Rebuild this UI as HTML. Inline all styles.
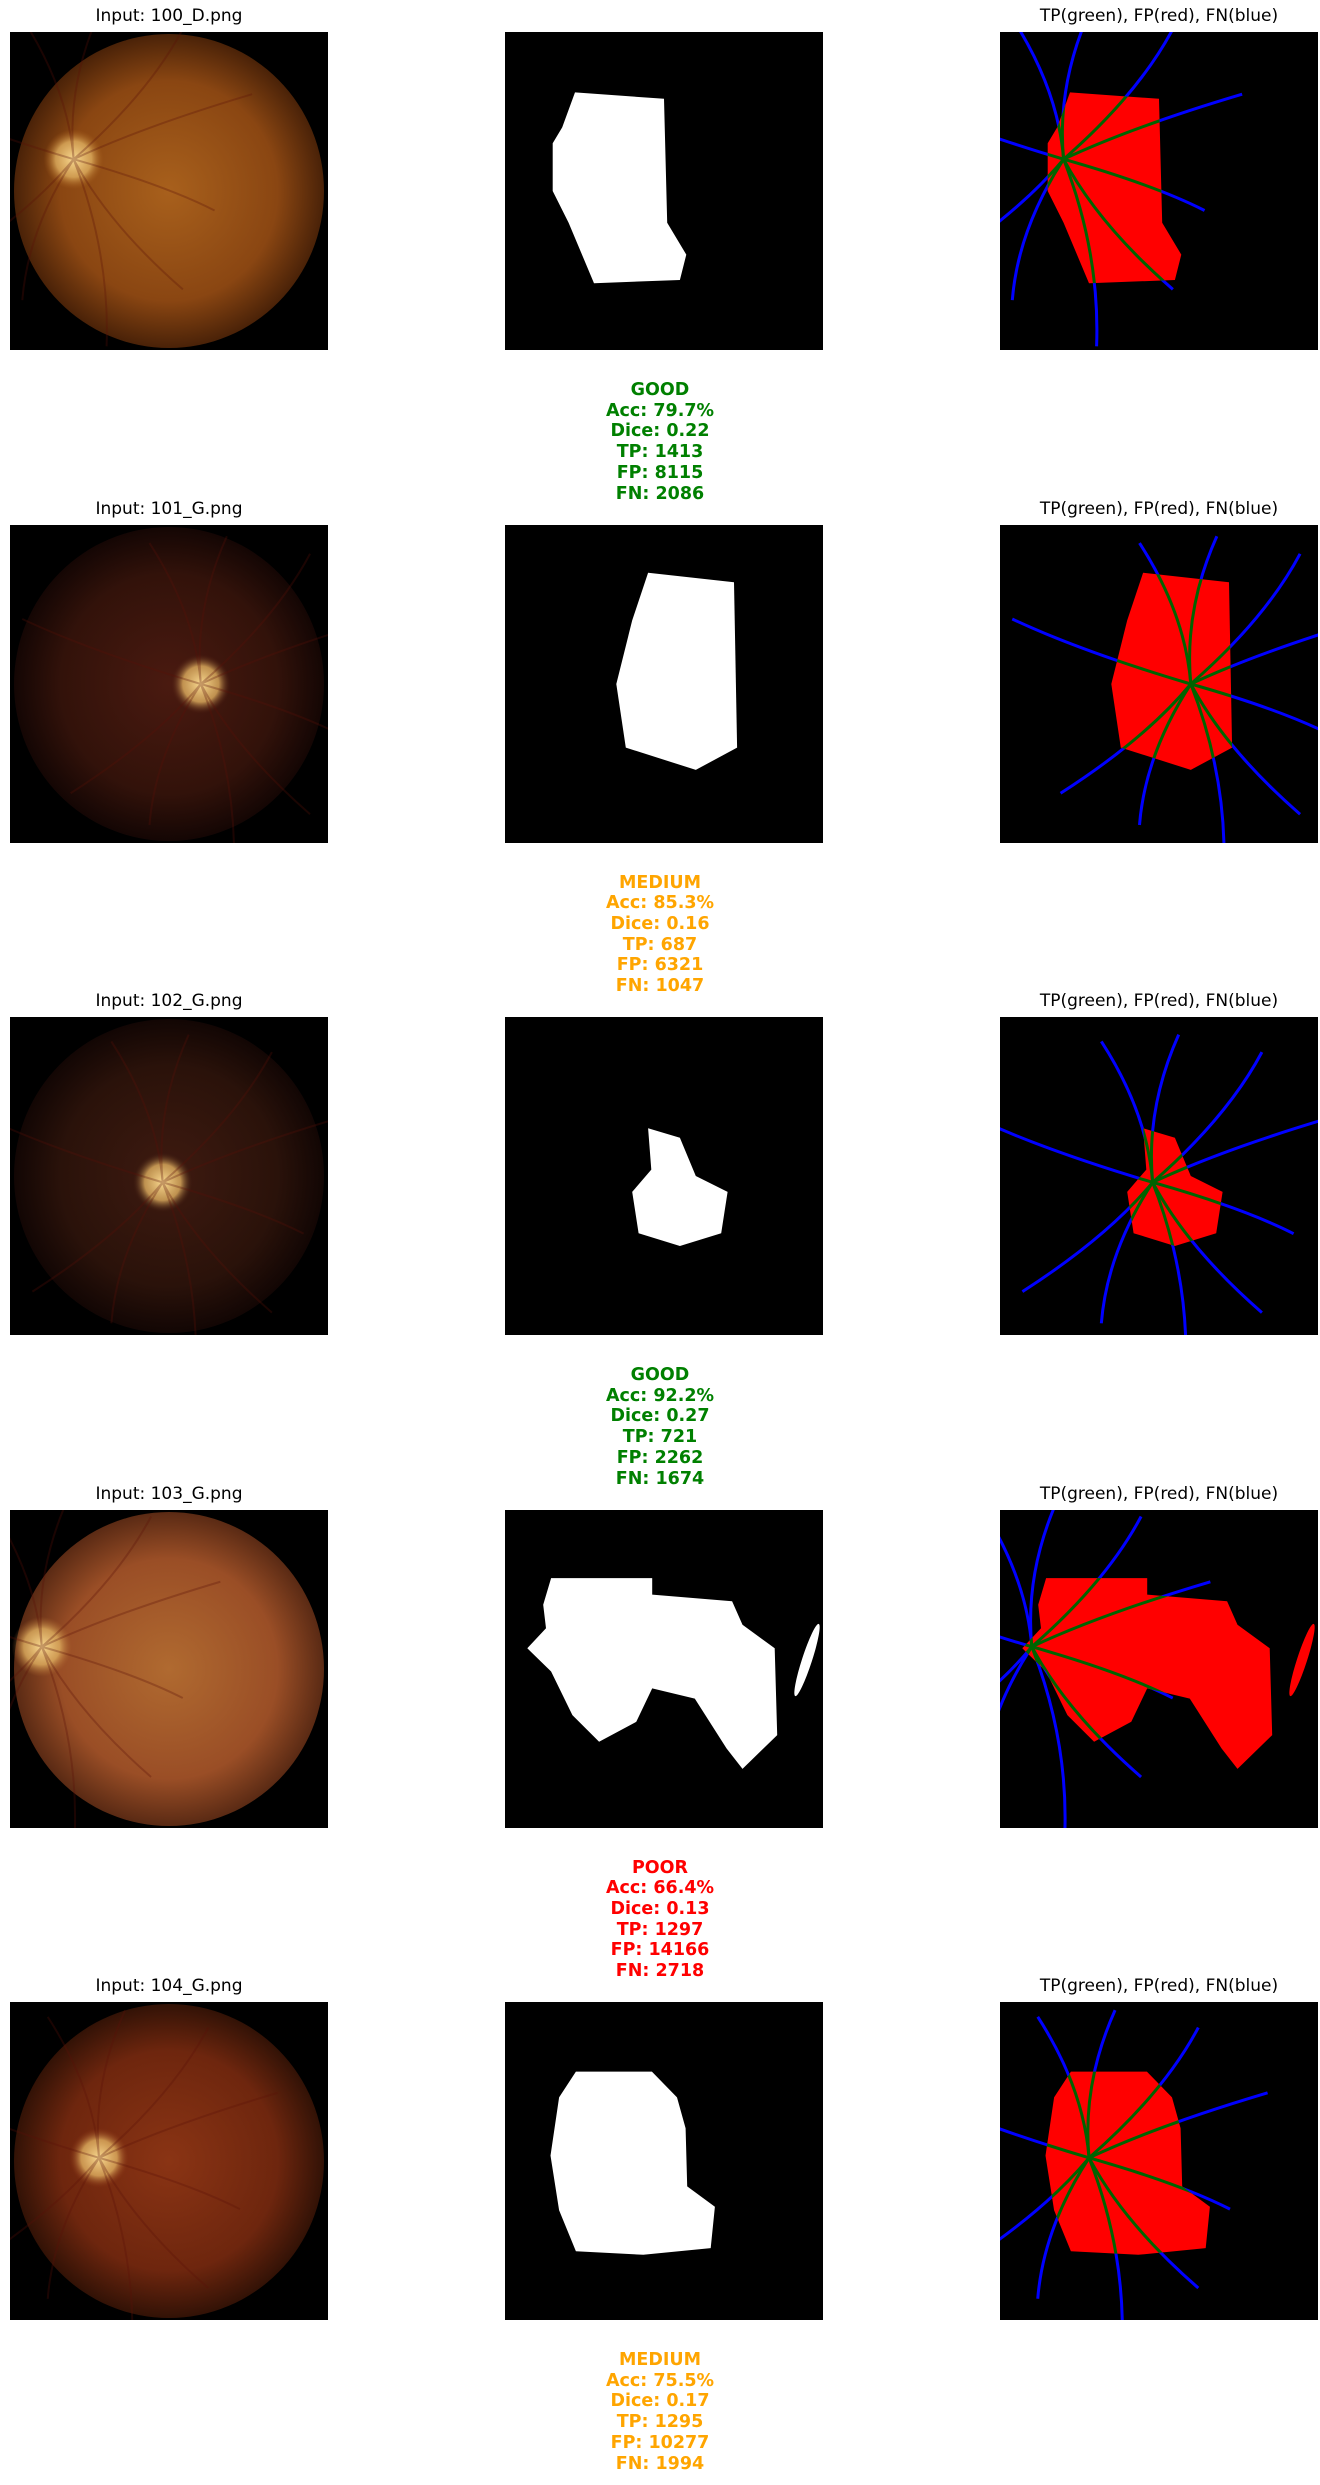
<!DOCTYPE html>
<html><head><meta charset="utf-8">
<style>
body{margin:0;background:#fff;width:1320px;height:2485px;position:relative;overflow:hidden;font-family:"DejaVu Sans","Liberation Sans",sans-serif;}
.t{position:absolute;font-size:17px;color:#000;text-align:center;width:400px;white-space:nowrap}
.m{position:absolute;left:460px;width:400px;text-align:center;font-size:17.5px;font-weight:bold;line-height:20.7px}
svg.p{position:absolute;width:318px;height:318px}
</style></head><body>
<div id="root"></div>
<script>
const names=["100_D.png","101_G.png","102_G.png","103_G.png","104_G.png"];
const quality=["GOOD","MEDIUM","GOOD","POOR","MEDIUM"];
const accs=[79.7,85.3,92.2,66.4,75.5];
const dices=[0.22,0.16,0.27,0.13,0.17];
const tps=[1413,687,721,1297,1295];
const fps=[8115,6321,2262,14166,10277];
const fns=[2086,1047,1674,2718,1994];
const qColor={GOOD:"#008000",MEDIUM:"#ffa500",POOR:"#ff0000"};
const fundusCol=[["#a8601c","#8a4612","#4a2208"],["#4a1a10","#32120a","#140604"],["#3e1a10","#2a120a","#120604"],["#b06a30","#9a4e26","#5a2a14"],["#8a3414","#6e260e","#321206"]];
const discs=[[0.2,0.4],[0.6,0.5],[0.48,0.52],[0.1,0.43],[0.28,0.49]];
const masks=[
[[0.22,0.19],[0.5,0.21],[0.51,0.6],[0.57,0.7],[0.55,0.78],[0.28,0.79],[0.2,0.6],[0.15,0.5],[0.15,0.35],[0.18,0.3]],
[[0.45,0.15],[0.72,0.18],[0.73,0.7],[0.6,0.77],[0.38,0.7],[0.35,0.5],[0.4,0.3]],
[[0.45,0.35],[0.55,0.38],[0.6,0.5],[0.7,0.55],[0.68,0.68],[0.55,0.72],[0.42,0.68],[0.4,0.55],[0.46,0.48]],
[[0.145,0.214],[0.463,0.214],[0.463,0.266],[0.714,0.287],[0.747,0.361],[0.848,0.435],[0.856,0.708],[0.747,0.814],[0.697,0.75],[0.597,0.593],[0.463,0.561],[0.413,0.666],[0.296,0.729],[0.212,0.645],[0.145,0.508],[0.07,0.435],[0.129,0.372],[0.12,0.298]],
[[0.223,0.219],[0.462,0.219],[0.541,0.3],[0.568,0.397],[0.573,0.58],[0.66,0.644],[0.647,0.774],[0.435,0.795],[0.223,0.784],[0.17,0.655],[0.143,0.483],[0.17,0.3]]];
const TOP0=32, PITCH=492.5, XS=[10,505,1000];
const root=document.getElementById('root');
const NS="http://www.w3.org/2000/svg";
function pts(arr){return arr.map(p=>(p[0]*318).toFixed(1)+","+(p[1]*318).toFixed(1)).join(" ");}
function vessels(d,col,w){
  let s="";const cx=d[0]*318,cy=d[1]*318;
  const ang=[-80,-50,-20,20,50,80,110,140,200,250];
  ang.forEach((a,i)=>{const r=a*Math.PI/180;const L=150+(i%3)*20;
    const x1=cx+Math.cos(r)*L*0.5+((i%2)?20:-20),y1=cy+Math.sin(r)*L*0.5;
    const x2=cx+Math.cos(r)*L,y2=cy+Math.sin(r)*L;
    s+=`<path d="M${cx},${cy} Q${x1},${y1} ${x2},${y2}" stroke="${col}" stroke-width="${w}" fill="none"/>`;});
  return s;
}
for(let i=0;i<5;i++){
  const top=TOP0+i*PITCH;
  const t1=document.createElement('div');t1.className='t';t1.style.left=(XS[0]+159-200)+'px';t1.style.top=(top-26)+'px';t1.textContent='Input: '+names[i];
  
  
  root.appendChild(t1);
  const t3=document.createElement('div');t3.className='t';t3.style.left=(XS[2]+159-200)+'px';t3.style.top=(top-26)+'px';t3.textContent='TP(green), FP(red), FN(blue)';
  
  
  root.appendChild(t3);
  const c=fundusCol[i],d=discs[i];
  const s1=document.createElementNS(NS,'svg');s1.setAttribute('class','p');s1.style.left=XS[0]+'px';s1.style.top=top+'px';s1.setAttribute('viewBox','0 0 318 318');
  
  
  s1.innerHTML=`<defs><radialGradient id="g${i}" cx="0.5" cy="0.5" r="0.5"><stop offset="0" stop-color="${c[0]}"/><stop offset="0.7" stop-color="${c[1]}"/><stop offset="1" stop-color="${c[2]}"/></radialGradient><radialGradient id="d${i}"><stop offset="0" stop-color="#f8d890"/><stop offset="0.6" stop-color="#e0b060" stop-opacity="0.8"/><stop offset="1" stop-color="${c[0]}" stop-opacity="0"/></radialGradient></defs><rect width="318" height="318" fill="#000"/><ellipse cx="159" cy="159" rx="155" ry="157" fill="url(#g${i})"/><circle cx="${d[0]*318}" cy="${d[1]*318}" r="30" fill="url(#d${i})"/><g opacity="0.3">${vessels(d,'#5a1008',2)}</g>`;
  root.appendChild(s1);
  const s2=document.createElementNS(NS,'svg');s2.setAttribute('class','p');s2.style.left=XS[1]+'px';s2.style.top=top+'px';s2.setAttribute('viewBox','0 0 318 318');
  
  
  let extra=i===3?`<ellipse cx="302" cy="150" rx="5" ry="38" transform="rotate(18 302 150)" fill="#fff"/>`:"";
  s2.innerHTML=`<rect width="318" height="318" fill="#000"/><polygon points="${pts(masks[i])}" fill="#fff"/>${extra}`;
  root.appendChild(s2);
  const s3=document.createElementNS(NS,'svg');s3.setAttribute('class','p');s3.style.left=XS[2]+'px';s3.style.top=top+'px';s3.setAttribute('viewBox','0 0 318 318');
  
  
  s3.innerHTML=`<defs><clipPath id="c${i}"><polygon points="${pts(masks[i])}"/></clipPath></defs><rect width="318" height="318" fill="#000"/>${vessels(d,'#0000ff',3)}<polygon points="${pts(masks[i])}" fill="#ff0000"/>${extra.replace('#fff','#ff0000')}<g clip-path="url(#c${i})">${vessels(d,'#006400',3)}</g>`;
  root.appendChild(s3);
  const m=document.createElement('div');m.className='m';m.style.top=(top+348)+'px';m.style.color=qColor[quality[i]];
  
  
  m.innerHTML=`${quality[i]}<br>Acc: ${accs[i].toFixed(1)}%<br>Dice: ${dices[i].toFixed(2)}<br>TP: ${tps[i]}<br>FP: ${fps[i]}<br>FN: ${fns[i]}`;
  root.appendChild(m);
}
</script>
</body></html>
